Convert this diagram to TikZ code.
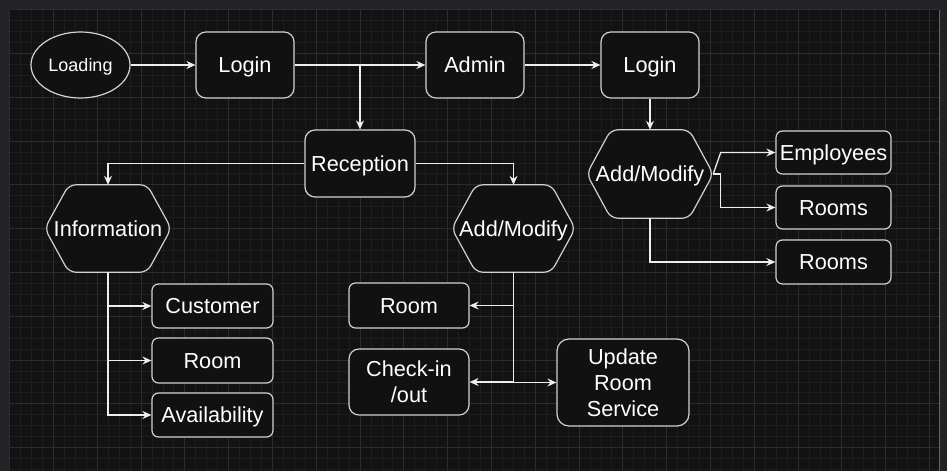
\documentclass[tikz,border=0pt]{standalone}
\usepackage{fontspec}
\setmainfont{Liberation Sans}
\usetikzlibrary{arrows.meta,shapes.geometric}
\pgfdeclarelayer{gridlayer}
\pgfdeclarelayer{background}
\pgfsetlayers{gridlayer,background,main}
\definecolor{framecol}{HTML}{222326}
\definecolor{canvascol}{HTML}{121212}
\definecolor{minorcol}{HTML}{1D1D1D}
\definecolor{majorcol}{HTML}{2C2C2C}
\definecolor{nodefill}{HTML}{111111}
\definecolor{bordercol}{HTML}{D2D2D2}
\definecolor{linecol}{HTML}{EEEEEE}
\newcommand\mainfs{\fontsize{21.7}{26}\selectfont}
\tikzset{
  box/.style={draw=bordercol, fill=nodefill, line width=1.2pt, text=white,
    font=\mainfs, align=center, inner sep=0pt, rounded corners=#1},
  box/.default=6.5pt,
  oneline/.style={text height=15.5pt, text depth=0pt},
  hexnode/.style={draw=none, text=white, font=\mainfs, align=center, inner sep=0pt,
    text height=15.5pt, text depth=0pt},
  hexline/.style={draw=bordercol, fill=nodefill, line width=1.2pt, rounded corners=7pt},
  conn/.style={draw=linecol, line width=1.3pt, -{Stealth[length=9pt,width=8pt,inset=3pt]}},
}
\begin{document}
\begin{tikzpicture}[x=1pt,y=-1pt]
\useasboundingbox (0,0) rectangle (947,471);
\begin{pgfonlayer}{gridlayer}
  \fill[framecol] (0,0) rectangle (947,471);
  \fill[canvascol] (9.5,9.5) rectangle (939,471);
  \foreach \i in {0,...,84} {
    \draw[minorcol, line width=0.6pt] ({9.5+10.95*\i},9.5) -- ({9.5+10.95*\i},471);
  }
  \foreach \j in {0,...,42} {
    \draw[minorcol, line width=0.6pt] (9.5,{9.5+10.95*\j}) -- (939,{9.5+10.95*\j});
  }
  \foreach \i in {0,...,21} {
    \draw[majorcol, line width=0.8pt] ({9.5+43.8*\i},9.5) -- ({9.5+43.8*\i},471);
  }
  \foreach \j in {0,...,10} {
    \draw[majorcol, line width=0.8pt] (9.5,{9.5+43.8*\j}) -- (939,{9.5+43.8*\j});
  }
  \draw[color=framecol!70!white, line width=0.8pt] (939.5,9.5) -- (939.5,471);
\end{pgfonlayer}

% top row
\node[ellipse, draw=bordercol, fill=nodefill, line width=1.2pt, text=white,
      font=\fontsize{18}{22}\selectfont, inner sep=0pt, text height=12.9pt, text depth=0pt,
      minimum width=99pt, minimum height=66pt] (loading) at (80.5,65) {Loading};
\node[box=9.9pt, oneline, minimum width=98pt, minimum height=66pt] (login1) at (245,65) {Login};
\node[box=9.9pt, oneline, minimum width=98pt, minimum height=66pt] (admin) at (475,65) {Admin};
\node[box=9.9pt, oneline, minimum width=98pt, minimum height=66pt] (login2) at (650,65) {Login};
\node[box=10pt, oneline, minimum width=110pt, minimum height=67pt] (reception) at (360,163.5) {Reception};

% hexagons
\node[hexnode, minimum width=126pt, minimum height=87pt] (info) at (108,228.5) {Information};
\node[hexnode, minimum width=123pt, minimum height=87pt] (addmid) at (513.5,228.5) {Add/Modify};
\node[hexnode, minimum width=126pt, minimum height=88pt] (addright) at (650,174) {Add/Modify};
\begin{pgfonlayer}{background}
  \foreach \n in {info,addmid,addright} {
    \draw[hexline] ([xshift=24pt]\n.north west) -- ([xshift=-24pt]\n.north east) -- (\n.east)
      -- ([xshift=-24pt]\n.south east) -- ([xshift=24pt]\n.south west) -- (\n.west) -- cycle;
  }
\end{pgfonlayer}

% right column
\node[box, oneline, minimum width=115pt, minimum height=43pt] (employees) at (833.5,152.5) {Employees};
\node[box, oneline, minimum width=115pt, minimum height=43pt] (rooms1) at (833.5,207.5) {Rooms};
\node[box, oneline, minimum width=115pt, minimum height=44pt] (rooms2) at (833.5,262) {Rooms};

% left column
\node[box, oneline, minimum width=121pt, minimum height=44pt] (customer) at (212.5,306) {Customer};
\node[box, oneline, minimum width=121pt, minimum height=45pt] (roomL) at (212.5,360.5) {Room};
\node[box, oneline, minimum width=121pt, minimum height=44pt] (avail) at (212.5,415) {Availability};

% middle column
\node[box, oneline, minimum width=120pt, minimum height=45pt] (roomM) at (409,305.5) {Room};
\node[box=9.9pt, minimum width=120pt, minimum height=66pt] (checkin) at (409,382) {Check-in\\/out};
\node[box=12pt, minimum width=132pt, minimum height=87pt] (update) at (623,382.5) {Update\\Room\\Service};

% connectors
\draw[conn] (loading) -- (login1);
\draw[conn] (login1) -- (admin);
\draw[conn] (login1.east) -| (reception.north);
\draw[conn] (admin) -- (login2);
\draw[conn] (login2) -- (addright.north);
\draw[conn] (reception.west) -| (info.north);
\draw[conn] (reception.east) -| (addmid.north);

\coordinate (ej) at (720.7,152.5);
\coordinate (rj) at (720.7,174);
\draw[conn] (addright.east) -- (ej) -- (employees.west);
\draw[conn] (addright.east) -- (rj) |- (rooms1.west);
\draw[conn] (addright.south) |- (rooms2.west);

\draw[conn] (info.south) |- (customer.west);
\draw[conn] (info.south) |- (roomL.west);
\draw[conn] (info.south) |- (avail.west);

\draw[conn] (addmid.south) |- (roomM.east);
\draw[conn] (addmid.south) |- (checkin.east);
\draw[conn] (addmid.south) |- (update.west);
\end{tikzpicture}
\end{document}
